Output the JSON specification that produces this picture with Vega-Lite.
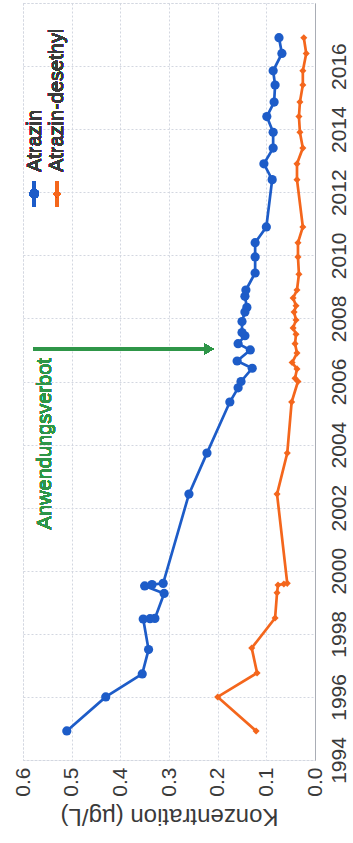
{
  "$schema": "https://vega.github.io/schema/vega-lite/v6.json",
  "width": 292,
  "height": 757,
  "autosize": {"type": "none"},
  "padding": {"left": 23, "top": 3, "right": 38, "bottom": 83},
  "background": "white",
  "config": {
    "font": "Liberation Sans",
    "view": {"stroke": "#d3d7e0", "strokeDash": [2, 2], "strokeWidth": 1},
    "axis": {"gridColor": "#d3d7e0", "gridDash": [2, 2], "gridWidth": 1, "gridOpacity": 1, "ticks": false, "labelColor": "#3a3a3a", "titleColor": "#3a3a3a", "labelFontSize": 21, "labelFontWeight": "normal", "titleFontWeight": "normal"}
  },
  "data": {
    "values": [
      {"series": "Atrazin", "i": 1, "year": 1994.92, "conc": 0.51},
      {"series": "Atrazin", "i": 2, "year": 1996.0, "conc": 0.43},
      {"series": "Atrazin", "i": 3, "year": 1996.73, "conc": 0.355},
      {"series": "Atrazin", "i": 4, "year": 1997.5, "conc": 0.342},
      {"series": "Atrazin", "i": 5, "year": 1998.47, "conc": 0.353},
      {"series": "Atrazin", "i": 6, "year": 1998.48, "conc": 0.339},
      {"series": "Atrazin", "i": 7, "year": 1998.49, "conc": 0.329},
      {"series": "Atrazin", "i": 8, "year": 1999.28, "conc": 0.31},
      {"series": "Atrazin", "i": 9, "year": 1999.52, "conc": 0.35},
      {"series": "Atrazin", "i": 10, "year": 1999.56, "conc": 0.335},
      {"series": "Atrazin", "i": 11, "year": 1999.6, "conc": 0.312},
      {"series": "Atrazin", "i": 12, "year": 2002.43, "conc": 0.259},
      {"series": "Atrazin", "i": 13, "year": 2003.73, "conc": 0.222},
      {"series": "Atrazin", "i": 14, "year": 2005.35, "conc": 0.175},
      {"series": "Atrazin", "i": 15, "year": 2005.8, "conc": 0.158},
      {"series": "Atrazin", "i": 16, "year": 2006.0, "conc": 0.152},
      {"series": "Atrazin", "i": 17, "year": 2006.42, "conc": 0.129},
      {"series": "Atrazin", "i": 18, "year": 2006.65, "conc": 0.16},
      {"series": "Atrazin", "i": 19, "year": 2007.0, "conc": 0.133},
      {"series": "Atrazin", "i": 20, "year": 2007.2, "conc": 0.158},
      {"series": "Atrazin", "i": 21, "year": 2007.45, "conc": 0.144},
      {"series": "Atrazin", "i": 22, "year": 2007.55, "conc": 0.15},
      {"series": "Atrazin", "i": 23, "year": 2007.9, "conc": 0.15},
      {"series": "Atrazin", "i": 24, "year": 2008.2, "conc": 0.144},
      {"series": "Atrazin", "i": 25, "year": 2008.35, "conc": 0.14},
      {"series": "Atrazin", "i": 26, "year": 2008.7, "conc": 0.144},
      {"series": "Atrazin", "i": 27, "year": 2008.9, "conc": 0.142},
      {"series": "Atrazin", "i": 28, "year": 2009.44, "conc": 0.123},
      {"series": "Atrazin", "i": 29, "year": 2009.95, "conc": 0.123},
      {"series": "Atrazin", "i": 30, "year": 2010.4, "conc": 0.123},
      {"series": "Atrazin", "i": 31, "year": 2010.9, "conc": 0.1},
      {"series": "Atrazin", "i": 32, "year": 2012.4, "conc": 0.088},
      {"series": "Atrazin", "i": 33, "year": 2012.9, "conc": 0.105},
      {"series": "Atrazin", "i": 34, "year": 2013.4, "conc": 0.086},
      {"series": "Atrazin", "i": 35, "year": 2013.9, "conc": 0.086},
      {"series": "Atrazin", "i": 36, "year": 2014.4, "conc": 0.099},
      {"series": "Atrazin", "i": 37, "year": 2014.86, "conc": 0.084},
      {"series": "Atrazin", "i": 38, "year": 2015.4, "conc": 0.082},
      {"series": "Atrazin", "i": 39, "year": 2015.85, "conc": 0.086},
      {"series": "Atrazin", "i": 40, "year": 2016.4, "conc": 0.068},
      {"series": "Atrazin", "i": 41, "year": 2016.9, "conc": 0.074},
      {"series": "Atrazin-desethyl", "i": 1, "year": 1994.92, "conc": 0.121},
      {"series": "Atrazin-desethyl", "i": 2, "year": 1996.0, "conc": 0.2},
      {"series": "Atrazin-desethyl", "i": 3, "year": 1996.76, "conc": 0.119},
      {"series": "Atrazin-desethyl", "i": 4, "year": 1997.55, "conc": 0.13},
      {"series": "Atrazin-desethyl", "i": 5, "year": 1998.5, "conc": 0.082},
      {"series": "Atrazin-desethyl", "i": 6, "year": 1999.3, "conc": 0.078},
      {"series": "Atrazin-desethyl", "i": 7, "year": 1999.55, "conc": 0.076},
      {"series": "Atrazin-desethyl", "i": 8, "year": 1999.58, "conc": 0.064},
      {"series": "Atrazin-desethyl", "i": 9, "year": 1999.6, "conc": 0.057},
      {"series": "Atrazin-desethyl", "i": 10, "year": 2002.43, "conc": 0.078},
      {"series": "Atrazin-desethyl", "i": 11, "year": 2003.73, "conc": 0.057},
      {"series": "Atrazin-desethyl", "i": 12, "year": 2005.35, "conc": 0.048},
      {"series": "Atrazin-desethyl", "i": 13, "year": 2006.0, "conc": 0.035},
      {"series": "Atrazin-desethyl", "i": 14, "year": 2006.1, "conc": 0.041},
      {"series": "Atrazin-desethyl", "i": 15, "year": 2006.4, "conc": 0.037},
      {"series": "Atrazin-desethyl", "i": 16, "year": 2006.6, "conc": 0.047},
      {"series": "Atrazin-desethyl", "i": 17, "year": 2006.9, "conc": 0.037},
      {"series": "Atrazin-desethyl", "i": 18, "year": 2007.2, "conc": 0.041},
      {"series": "Atrazin-desethyl", "i": 19, "year": 2007.5, "conc": 0.039},
      {"series": "Atrazin-desethyl", "i": 20, "year": 2007.7, "conc": 0.045},
      {"series": "Atrazin-desethyl", "i": 21, "year": 2007.95, "conc": 0.039},
      {"series": "Atrazin-desethyl", "i": 22, "year": 2008.2, "conc": 0.043},
      {"series": "Atrazin-desethyl", "i": 23, "year": 2008.4, "conc": 0.039},
      {"series": "Atrazin-desethyl", "i": 24, "year": 2008.65, "conc": 0.045},
      {"series": "Atrazin-desethyl", "i": 25, "year": 2008.9, "conc": 0.037},
      {"series": "Atrazin-desethyl", "i": 26, "year": 2009.4, "conc": 0.033},
      {"series": "Atrazin-desethyl", "i": 27, "year": 2009.95, "conc": 0.035},
      {"series": "Atrazin-desethyl", "i": 28, "year": 2010.4, "conc": 0.035},
      {"series": "Atrazin-desethyl", "i": 29, "year": 2010.9, "conc": 0.025},
      {"series": "Atrazin-desethyl", "i": 30, "year": 2012.4, "conc": 0.037},
      {"series": "Atrazin-desethyl", "i": 31, "year": 2012.9, "conc": 0.037},
      {"series": "Atrazin-desethyl", "i": 32, "year": 2013.4, "conc": 0.025},
      {"series": "Atrazin-desethyl", "i": 33, "year": 2013.9, "conc": 0.031},
      {"series": "Atrazin-desethyl", "i": 34, "year": 2014.4, "conc": 0.033},
      {"series": "Atrazin-desethyl", "i": 35, "year": 2014.86, "conc": 0.031},
      {"series": "Atrazin-desethyl", "i": 36, "year": 2015.4, "conc": 0.025},
      {"series": "Atrazin-desethyl", "i": 37, "year": 2015.85, "conc": 0.025},
      {"series": "Atrazin-desethyl", "i": 38, "year": 2016.4, "conc": 0.018},
      {"series": "Atrazin-desethyl", "i": 39, "year": 2016.9, "conc": 0.023}
    ]
  },
  "encoding": {
    "x": {
      "field": "conc", "type": "quantitative",
      "scale": {"domain": [0, 0.6], "reverse": true, "nice": false, "zero": false},
      "axis": {
        "values": [0, 0.1, 0.2, 0.3, 0.4, 0.5, 0.6],
        "format": ".1f",
        "labelAngle": -90, "labelAlign": "right", "labelBaseline": "middle", "labelPadding": 7,
        "domain": false,
        "title": "Konzentration (µg/L)", "titleAngle": 180, "titleFontSize": 24,
        "titleBaseline": "bottom", "titlePadding": 7
      }
    },
    "y": {
      "field": "year", "type": "quantitative",
      "scale": {"domain": [1994, 2018], "nice": false, "zero": false},
      "axis": {
        "orient": "right",
        "values": [1994, 1996, 1998, 2000, 2002, 2004, 2006, 2008, 2010, 2012, 2014, 2016, 2018],
        "format": "d",
        "labelExpr": "datum.value > 2016 ? '' : datum.label",
        "labelAngle": -90, "labelAlign": "center", "labelBaseline": "top", "labelPadding": 13,
        "domain": true, "domainColor": "#a9adb5", "domainWidth": 1,
        "title": null
      }
    }
  },
  "layer": [
    {
      "mark": {"type": "line", "strokeWidth": 2.7},
      "encoding": {
        "color": {"field": "series", "type": "nominal", "scale": {"domain": ["Atrazin", "Atrazin-desethyl"], "range": ["#1d5cc8", "#f4661c"]}, "legend": null},
        "order": {"field": "i", "type": "quantitative"}
      }
    },
    {
      "mark": {"type": "point", "filled": true, "opacity": 1},
      "encoding": {
        "color": {"field": "series", "type": "nominal", "legend": null},
        "shape": {"field": "series", "type": "nominal", "scale": {"domain": ["Atrazin", "Atrazin-desethyl"], "range": ["circle", "diamond"]}, "legend": null},
        "size": {"field": "series", "type": "nominal", "scale": {"domain": ["Atrazin", "Atrazin-desethyl"], "range": [85, 50]}, "legend": null}
      }
    },
    {
      "mark": {"type": "rule", "color": "#2f9548", "strokeWidth": 3},
      "encoding": {
        "x": {"datum": 0.579, "type": "quantitative"},
        "x2": {"datum": 0.226},
        "y": {"datum": 2007.03, "type": "quantitative"}
      }
    },
    {
      "mark": {"type": "point", "shape": "triangle-right", "filled": true, "color": "#2f9548", "size": 110, "opacity": 1},
      "encoding": {
        "x": {"datum": 0.218, "type": "quantitative"},
        "y": {"datum": 2007.03, "type": "quantitative"}
      }
    },
    {
      "mark": {"type": "text", "text": "Anwendungsverbot", "angle": 270, "align": "right", "baseline": "middle", "fontSize": 20, "color": "#2f9548"},
      "encoding": {
        "x": {"datum": 0.554, "type": "quantitative"},
        "y": {"datum": 2006.74, "type": "quantitative"}
      }
    },
    {
      "mark": {"type": "text", "text": "Atrazin", "angle": 270, "align": "left", "baseline": "middle", "fontSize": 20, "color": "#3a3a3a"},
      "encoding": {
        "x": {"datum": 0.575, "type": "quantitative"},
        "y": {"datum": 2012.64, "type": "quantitative"}
      }
    },
    {
      "mark": {"type": "text", "text": "Atrazin-desethyl", "angle": 270, "align": "left", "baseline": "middle", "fontSize": 20, "color": "#3a3a3a"},
      "encoding": {
        "x": {"datum": 0.53, "type": "quantitative"},
        "y": {"datum": 2012.64, "type": "quantitative"}
      }
    },
    {
      "mark": {"type": "rule", "color": "#1d5cc8", "strokeWidth": 2.7},
      "encoding": {
        "x": {"datum": 0.577, "type": "quantitative"},
        "y": {"datum": 2012.35, "type": "quantitative"},
        "y2": {"datum": 2011.55}
      }
    },
    {
      "mark": {"type": "point", "shape": "circle", "filled": true, "color": "#1d5cc8", "size": 85, "opacity": 1},
      "encoding": {
        "x": {"datum": 0.577, "type": "quantitative"},
        "y": {"datum": 2011.95, "type": "quantitative"}
      }
    },
    {
      "mark": {"type": "rule", "color": "#f4661c", "strokeWidth": 2.7},
      "encoding": {
        "x": {"datum": 0.53, "type": "quantitative"},
        "y": {"datum": 2012.35, "type": "quantitative"},
        "y2": {"datum": 2011.55}
      }
    },
    {
      "mark": {"type": "point", "shape": "diamond", "filled": true, "color": "#f4661c", "size": 50, "opacity": 1},
      "encoding": {
        "x": {"datum": 0.53, "type": "quantitative"},
        "y": {"datum": 2011.95, "type": "quantitative"}
      }
    }
  ]
}
